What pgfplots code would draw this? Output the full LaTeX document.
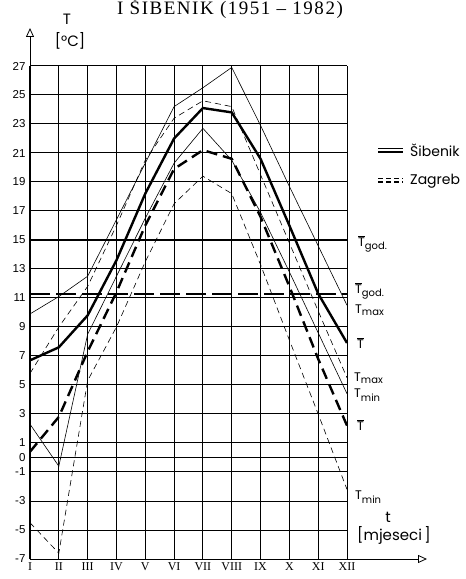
\documentclass[border=0pt]{standalone}
\usepackage{pgfplots}
\usepackage{pgfplotstable}
\pgfplotsset{compat=1.18}
\usepackage{fontspec}
\setmainfont{Liberation Sans}
\newfontfamily\serif{Liberation Serif}
\newfontfamily\serifw[LetterSpace=8]{Liberation Serif}
\newfontfamily\geo{Poppins}
\usetikzlibrary{arrows.meta}

\pgfplotstableread{
m  sT    sTx   sTn   zT    zTx   zTn
1  6.7   9.9   2.3   0.4   5.8  -4.5
2  7.6   11.1 -0.6   2.8   9.0  -6.6
3  9.8   12.5  8.5   7.3   11.8  5.3
4  13.6  16.4  12.5  11.4  16.0  9.0
5  18.2  20.3  16.5  16.0  20.5  13.5
6  22.0  24.2  20.3  19.9  23.4  17.5
7  24.1  25.5  22.7  21.2  24.6  19.4
8  23.8  26.9  20.5  20.6  24.2  18.2
9  20.6  22.9  16.9  16.6  19.5  13.3
10 16.0  18.7  12.8  11.8  14.8  8.1
11 11.3  14.6  8.6   6.8   10.1  3.0
12 7.9   10.5  4.4   2.2   5.5  -2.2
}\data

\newcommand{\Tb}{$\overline{\mbox{T}}$}
\newcommand{\sub}[1]{$_{\mbox{\geo\fontsize{10}{10}\selectfont #1}}$}
\begin{document}
\begin{tikzpicture}
\useasboundingbox (0,0) rectangle (466pt,579pt);
\begin{axis}[
  at={(30pt,20pt)}, anchor=south west,
  scale only axis, width=317pt, height=493pt,
  xmin=1, xmax=12, ymin=-7, ymax=27,
  clip=false,
  axis lines=left,
  x axis line style={-{Triangle[open,length=9pt,width=8pt]}, shorten >=-80pt, line width=0.8pt},
  y axis line style={-{Triangle[open,length=9pt,width=8pt]}, shorten >=-38pt, line width=0.8pt},
  xtick={1,...,12},
  xticklabels={I,II,III,IV,V,VI,VII,VIII,IX,X,XI,XII},
  ytick={-7,-5,-3,-1,0,1,3,5,7,9,11,13,15,17,19,21,23,25,27},
  major tick length=0pt,
  grid=major,
  grid style={black, line width=1pt},
  yticklabel style={font=\fontsize{11.5}{12}\selectfont, xshift=-1pt},
  xticklabel style={font=\serif\fontsize{12}{12}\selectfont},
  /pgf/number format/assume math mode=true,
]
% annual means
\addplot[black, line width=1.6pt] coordinates {(1,15) (12,15)};
\addplot[black, line width=2.2pt, dash pattern=on 20pt off 6pt] coordinates {(1,11.3) (12,11.3)};
% Sibenik
\addplot[black, line width=2.4pt] table[x=m,y=sT]{\data};
\addplot[black, line width=0.6pt] table[x=m,y=sTx]{\data};
\addplot[black, line width=0.6pt] table[x=m,y=sTn]{\data};
% Zagreb
\addplot[black, line width=2.4pt, dash pattern=on 11pt off 6pt] table[x=m,y=zT]{\data};
\addplot[black, line width=0.6pt, dash pattern=on 6pt off 4pt] table[x=m,y=zTx]{\data};
\addplot[black, line width=0.6pt, dash pattern=on 6pt off 4pt] table[x=m,y=zTn]{\data};
\end{axis}
% right-hand labels
\begin{scope}[every node/.style={anchor=west, inner sep=0pt, font=\geo\fontsize{12.5}{12}\selectfont}]
\node at (358pt,335pt) {\Tb\sub{god.}};
\node at (355pt,288pt) {\Tb\sub{god.}};
\node at (355pt,269pt) {T\sub{max}};
\node at (357pt,236pt) {\Tb};
\node at (354pt,201pt) {T\sub{max}};
\node at (354pt,184pt) {T\sub{min}};
\node at (357pt,154pt) {\Tb};
\node at (355pt,82pt) {T\sub{min}};
\end{scope}
% axis labels
\node[font=\geo\fontsize{15}{15}\selectfont] at (67pt,560pt) {T};
\node[font=\geo\fontsize{15}{15}\selectfont] at (70pt,538pt) {[°C]};
\node[font=\geo\fontsize{15}{15}\selectfont] at (388pt,62pt) {t};
\node[font=\geo\fontsize{15}{15}\selectfont] at (394pt,44pt) {[mjeseci\,]};
% legend
\draw[line width=0.6pt] (378pt,431pt) -- (403pt,431pt);
\draw[line width=2pt] (378pt,427pt) -- (403pt,427pt);
\node[anchor=west, inner sep=0pt, font=\geo\fontsize{14}{14}\selectfont] at (410pt,429pt) {Šibenik};
\draw[line width=0.6pt, dash pattern=on 5pt off 3pt] (378pt,401pt) -- (403pt,401pt);
\draw[line width=2pt, dash pattern=on 5pt off 3pt] (378pt,397pt) -- (403pt,397pt);
\node[anchor=west, inner sep=0pt, font=\geo\fontsize{14}{14}\selectfont] at (410pt,398pt) {Zagreb};
% title
\node[anchor=base, font=\serifw\fontsize{19}{19}\selectfont] at (230pt,564pt) {I ŠIBENIK (1951 – 1982)};
\end{tikzpicture}
\end{document}
